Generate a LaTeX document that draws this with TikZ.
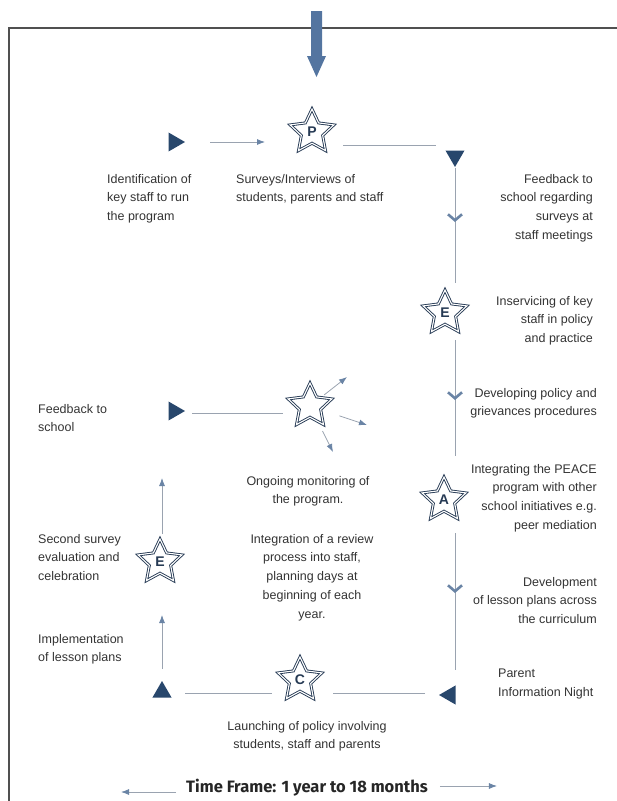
\documentclass[tikz,border=0pt]{standalone}
\usepackage{fontspec}
\setmainfont{Liberation Sans}
\setsansfont{Liberation Sans}
\newfontfamily\titlefont{Fira Sans}
\usetikzlibrary{arrows.meta,shapes.geometric,calc,decorations.markings}
\definecolor{navy}{HTML}{28476C}
\definecolor{starline}{HTML}{263A54}
\definecolor{linegray}{HTML}{9AA3B0}
\definecolor{tipblue}{HTML}{6A84A5}
\definecolor{bigblue}{HTML}{5475A0}
\definecolor{txt}{HTML}{333333}
\definecolor{framegray}{HTML}{505050}

\begin{document}
\begin{tikzpicture}[x=1pt,y=-1pt,every node/.style={font=\fontsize{12.5}{18.7}\selectfont,text=txt,inner sep=0pt},pointer/.style={regular polygon,regular polygon sides=3,fill=navy,minimum size=22pt},stage/.style={star,star points=5,star point ratio=2.05,minimum size=46pt,draw=starline,line width=0.9pt,double=white,double distance=1.1pt,font=\fontsize{14}{14}\selectfont\bfseries,text=starline},notel/.style={align=left,anchor=north west},noter/.style={align=right,anchor=north east},notec/.style={align=center,anchor=north},link/.style={draw=linegray,line width=0.8pt},flow/.style={link,-{Latex[length=8pt,width=6pt,color=tipblue]}},chev/.style={postaction={decorate},decoration={markings,mark=at position #1 with {\arrow[tipblue]{Straight Barb[width=14pt,length=6pt,line width=2.6pt]}}}}]
\useasboundingbox (0,0) rectangle (617,801);
\draw[framegray,line width=1.1pt] (9,801) -- (9,28) -- (617,28);
\fill[bigblue] (311,11) -- (322,11) -- (322,56) -- (326,56) -- (316.5,77) -- (307,56) -- (311,56) -- cycle;
\node[pointer,shape border rotate=-90] (trStart) at (174,142) {};
\node[stage] (starP) at (312,132) {P};
\node[pointer,shape border rotate=180] (trTurn) at (455,156) {};
\node[stage] (starE) at (445,313) {E};
\node[stage] (starA) at (444,500) {A};
\node[pointer,shape border rotate=90] (trParent) at (450,695) {};
\node[stage] (starC) at (300,680) {C};
\node[pointer] (trUp) at (162,692) {};
\node[stage] (starEE) at (160,562) {E};
\node[pointer,shape border rotate=-90] (trFeed) at (174,411) {};
\node[stage] (starMon) at (310,406) {};
\coordinate (monA) at (347,377);
\coordinate (monB) at (367,425);
\coordinate (monC) at (333,452);
\draw[flow] ($(trStart)+(36,0)$) -- ($(trStart -| starP)+(-47,0)$);
\draw[link] ($(starP)+(31,13)$) -- ($(starP -| trTurn)+(-19,13)$);
\draw[link,chev=54pt] ($(trTurn)+(0,12)$) -- ($(trTurn |- starE)+(0,-30)$);
\draw[link,chev=60pt] ($(trTurn |- starE)+(0,27)$) -- ($(trTurn |- starA)+(0,-44)$);
\draw[link,chev=60pt] ($(trTurn |- starA)+(0,33)$) -- ($(trTurn |- trParent)+(0,-25)$);
\draw[link] ($(trParent)+(-25,-2)$) -- ($(trParent -| starC)+(33,-2)$);
\draw[link] ($(trUp)+(23,1)$) -- ($(trUp -| starC)+(-28,1)$);
\draw[flow] ($(trUp)+(0,-23)$) -- ($(trUp |- starEE)+(0,53)$);
\draw[flow] ($(trUp |- starEE)+(0,-28)$) -- ($(trUp |- trFeed)+(0,67)$);
\draw[link] ($(trFeed)+(18,2)$) -- ($(trFeed -| starMon)+(-27,2)$);
\draw[flow,shorten <=18pt] (starMon.center) -- (monA);
\draw[flow,shorten <=31pt] (starMon.center) -- (monB);
\draw[flow,shorten <=28pt] (starMon.center) -- (monC);
\node[notel] (tIdent) at (107,174) {Identification of\\key staff to run\\the program};
\node[notel] (tSurvey) at (236,174) {Surveys/Interviews of\\students, parents and staff};
\node[noter] (tFeedSurvey) at (593,174) {Feedback to\\school regarding\\surveys at\\staff meetings};
\node[noter] (tInserv) at (593,296) {Inservicing of key\\staff in policy\\and practice};
\node[noter] (tPolicy) at (597,388) {Developing policy and\\grievances procedures};
\node[noter] (tPeace) at (597,464) {Integrating the PEACE\\program with other\\school initiatives e.g.\\peer mediation};
\node[noter] (tLesson) at (597,577) {Development\\of lesson plans across\\the curriculum};
\node[notel] (tParent) at (498,669) {Parent\\Information Night};
\node[notel] (tFeedSchool) at (38,404) {Feedback to\\school};
\node[notel] (tSecond) at (38,534) {Second survey\\evaluation and\\celebration};
\node[notel] (tImpl) at (38,634) {Implementation\\of lesson plans};
\node[notec] (tMonitor) at (308,476) {Ongoing monitoring of\\the program.};
\node[notec] (tReview) at (312,534) {Integration of a review\\process into staff,\\planning days at\\beginning of each\\year.};
\node[notec] (tLaunch) at (307,721) {Launching of policy involving\\students, staff and parents};
\node[font=\titlefont\bfseries\fontsize{16.5}{19}\selectfont,text=black!85] (title) at (307,788) {Time Frame: 1 year to 18 months};
\draw[flow] ($(title.west)+(-10,4)$) -- ($(title.west)+(-65,4)$);
\draw[flow] ($(title.east)+(12,-2)$) -- ($(title.east)+(69,-2)$);
\end{tikzpicture}
\end{document}
